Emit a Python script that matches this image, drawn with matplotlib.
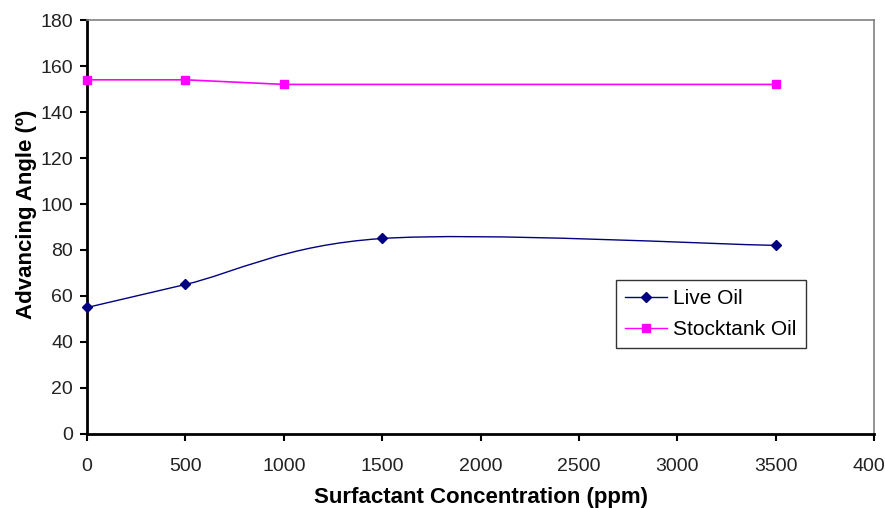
import matplotlib
matplotlib.use('Agg')
import matplotlib.pyplot as plt
from matplotlib.path import Path
from matplotlib.patches import PathPatch
from matplotlib.lines import Line2D
import numpy as np

# Data
conc_live = [0, 500, 1500, 3500]
angle_live = [55, 65, 85, 82]
conc_stock = [0, 500, 1000, 3500]
angle_stock = [154, 154, 152, 152]

x_ticks = [0, 500, 1000, 1500, 2000, 2500, 3000, 3500, 4000]
y_ticks = [0, 20, 40, 60, 80, 100, 120, 140, 160, 180]

plt.rcParams['font.family'] = ['Liberation Sans', 'DejaVu Sans']


# Excel-style smoothed line built as a bezier path through the points
def smooth_path(xs, ys):
    pts = np.column_stack([xs, ys]).astype(float)
    verts = [pts[0]]
    codes = [Path.MOVETO]
    n = len(pts)
    for i in range(n - 1):
        p0 = pts[i - 1] if i > 0 else pts[i]
        p1 = pts[i]
        p2 = pts[i + 1]
        p3 = pts[i + 2] if i + 2 < n else pts[i + 1]
        c1 = p1 + (p2 - p0) / 6.0
        c2 = p2 - (p3 - p1) / 6.0
        verts += [c1, c2, p2]
        codes += [Path.CURVE4] * 3
    return Path(verts, codes)


fig = plt.figure(figsize=(8.85, 5.08), dpi=100)
ax = fig.add_axes([0.0983, 0.1457, 0.8893, 0.8149])

live_col = '#000080'
stock_col = '#FF00FF'

ax.add_patch(PathPatch(smooth_path(conc_live, angle_live), fill=False,
                       edgecolor=live_col, lw=1.0, zorder=3))
# stocktank line is practically straight in the original
ax.plot(conc_stock, angle_stock, color=stock_col, lw=1.2, zorder=3)
ax.plot(conc_live, angle_live, linestyle='none', marker='D', ms=5,
        color=live_col, zorder=4, clip_on=False)
ax.plot(conc_stock, angle_stock, linestyle='none', marker='s', ms=6,
        color=stock_col, zorder=4, clip_on=False)

ax.set_xlim(0, 4000)
ax.set_ylim(0, 180)
ax.set_xticks(x_ticks)
ax.set_yticks(y_ticks)
ax.tick_params(axis='both', direction='out', length=5, width=1.5,
               labelsize=14, labelcolor='#222222', color='black')
ax.tick_params(axis='x', pad=12)
ax.tick_params(axis='y', pad=5)

for side in ['left', 'bottom']:
    ax.spines[side].set_linewidth(2)
    ax.spines[side].set_color('black')
for side in ['top', 'right']:
    ax.spines[side].set_linewidth(1.2)
    ax.spines[side].set_color('#808080')

ax.set_xlabel('Surfactant Concentration (ppm)', fontsize=16, fontweight='bold',
              labelpad=9)
ax.set_ylabel('Advancing Angle (º)', fontsize=16, fontweight='bold')
ax.yaxis.set_label_coords(-0.064, 0.53)

handles = [
    Line2D([], [], color=live_col, lw=1.0, marker='D', ms=5),
    Line2D([], [], color=stock_col, lw=1.0, marker='s', ms=6),
]
leg = ax.legend(handles, ['Live Oil', 'Stocktank Oil'], loc='upper left',
                bbox_to_anchor=(0.672, 0.372), fontsize=15, frameon=True,
                fancybox=False, edgecolor='black', handlelength=2.0,
                borderpad=0.45, labelspacing=0.55, handletextpad=0.3,
                borderaxespad=0)
leg.get_frame().set_linewidth(1.0)

fig.savefig('out.png', dpi=100)
